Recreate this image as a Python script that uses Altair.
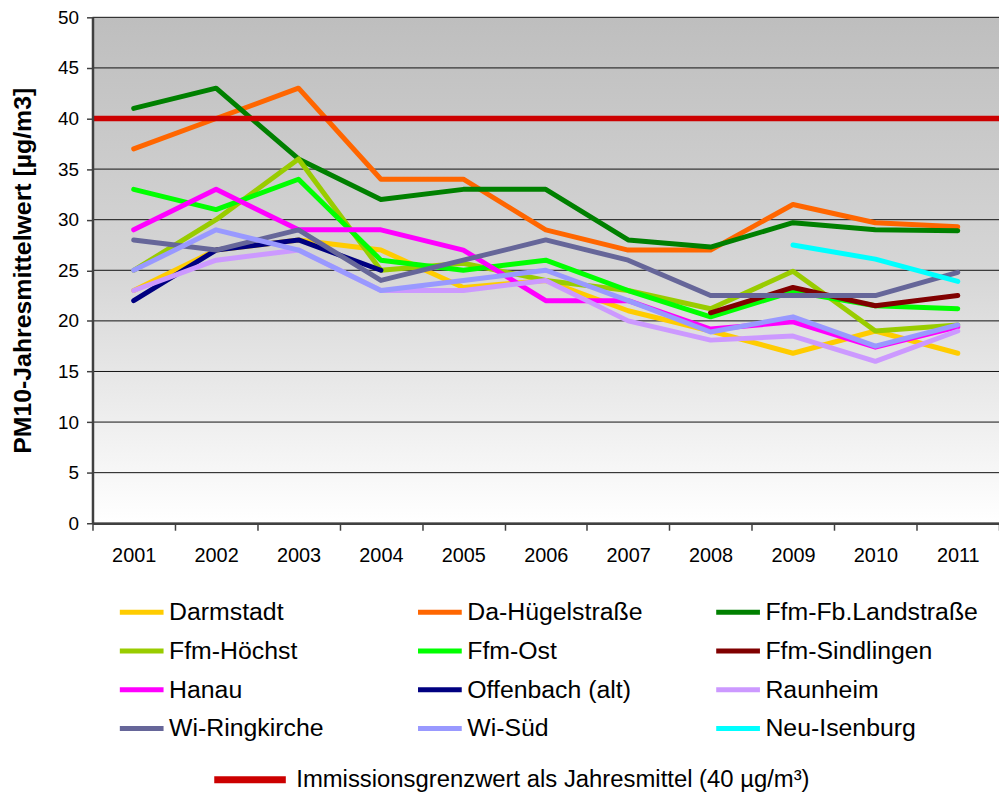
import altair as alt
import pandas as pd

FONT = "Liberation Sans"

years = ["2001", "2002", "2003", "2004", "2005", "2006", "2007", "2008", "2009", "2010", "2011"]

stations = ["Darmstadt", "Da-Hügelstraße", "Ffm-Fb.Landstraße",
            "Ffm-Höchst", "Ffm-Ost", "Ffm-Sindlingen",
            "Hanau", "Offenbach (alt)", "Raunheim",
            "Wi-Ringkirche", "Wi-Süd", "Neu-Isenburg"]
colors = ["#FFCC00", "#FF6600", "#008000",
          "#99CC00", "#00FF00", "#800000",
          "#FF00FF", "#000080", "#CC99FF",
          "#666699", "#9999FF", "#00FFFF"]

darmstadt = [23, 27, 28, 27, 23.3, 24, 21, 19, 16.8, 19, 16.8]
da_huegel = [37, 40, 43, 34, 34, 29, 27, 27, 31.5, 29.7, 29.3]
ffm_fb = [41, 43, 36, 32, 33, 33, 28, 27.3, 29.7, 29, 28.9]
ffm_hoechst = [25, 30, 36, 25, 25.7, 24, 23, 21.2, 24.9, 19, 19.6]
ffm_ost = [33, 31, 34, 26, 25, 26, 23, 20.4, 22.9, 21.5, 21.2]
ffm_sindlingen = [None, None, None, None, None, None, None, 20.8, 23.3, 21.5, 22.5]
hanau = [29, 33, 29, 29, 27, 22, 22, 19.2, 19.9, 17.4, 19.4]
offenbach = [22, 27, 28, 25, None, None, None, None, None, None, None]
raunheim = [23, 26, 27, 23, 23, 24, 20, 18.1, 18.5, 16, 19]
wi_ring = [28, 27, 29, 24, 26, 28, 26, 22.5, 22.5, 22.5, 24.8]
wi_sued = [25, 29, 27, 23, 24, 25, 22, 18.9, 20.4, 17.5, 19.6]
neu_isenburg = [None, None, None, None, None, None, None, None, 27.5, 26.1, 23.9]

series = [darmstadt, da_huegel, ffm_fb, ffm_hoechst, ffm_ost, ffm_sindlingen,
          hanau, offenbach, raunheim, wi_ring, wi_sued, neu_isenburg]

limit_label = "Immissionsgrenzwert als Jahresmittel (40 µg/m³)"
limit_value = [40]
y_ticks = list(range(0, 51, 5))

rows = []
for name, vals in zip(stations, series):
    for yr, v in zip(years, vals):
        if v is not None:
            rows.append({"Jahr": yr, "Station": name, "Wert": v})
df = pd.DataFrame(rows)

# legend fills column by column: reorder so that it reads row by row (3 columns)
ncol = 3
legend_order = [stations[r * ncol + c] for c in range(ncol) for r in range(len(stations) // ncol)]
legend_colors = [colors[stations.index(s)] for s in legend_order]

W, H = 912, 509

xscale = alt.Scale(type="band", domain=years, paddingInner=0, paddingOuter=0)
yscale = alt.Scale(domain=[0, 50], nice=False, zero=True)

xaxis = alt.Axis(title=None, tickBand="extent", labelAngle=0, labelFont=FONT,
                 labelFontSize=20, labelColor="black", labelPadding=15,
                 tickSize=7, tickColor="#404040", tickWidth=1.5,
                 domainColor="#404040", domainWidth=2.5, grid=False, zindex=1)
yaxis = alt.Axis(title="PM10-Jahresmittelwert [µg/m3]", values=y_ticks,
                 titleFont=FONT, titleFontSize=25, titleFontWeight="bold",
                 titleColor="black", titlePadding=22,
                 labelFont=FONT, labelFontSize=19, labelColor="black",
                 labelPadding=8, tickSize=6, tickColor="#404040", tickWidth=1.5,
                 domainColor="#404040", domainWidth=2.5, grid=False, zindex=1)

gradient = alt.Gradient(
    gradient="linear", x1=0, x2=0, y1=0, y2=1,
    stops=[alt.GradientStop(color="#BEBEBE", offset=0),
           alt.GradientStop(color="#D6D6D6", offset=0.5),
           alt.GradientStop(color="#FFFFFF", offset=1)])

bg = alt.Chart(pd.DataFrame({"a": [0]})).mark_rect(color=gradient).encode(
    x=alt.value(0), x2=alt.value("width"), y=alt.value(0), y2=alt.value("height"))

grid = alt.Chart(pd.DataFrame({"tick": y_ticks})).mark_rule(
    color="#111111", strokeWidth=1).encode(
    y=alt.Y("tick:Q", scale=yscale, axis=yaxis))

lines = alt.Chart(df).mark_line(strokeWidth=5, strokeJoin="round", strokeCap="round").encode(
    x=alt.X("Jahr:O", scale=xscale, axis=xaxis),
    y=alt.Y("Wert:Q", scale=yscale, axis=yaxis),
    color=alt.Color("Station:N", scale=alt.Scale(domain=legend_order, range=legend_colors),
                    legend=alt.Legend(title=None, orient="none", legendX=25, legendY=585,
                                      columns=ncol, columnPadding=34, rowPadding=12,
                                      gridAlign="all", symbolType="stroke",
                                      symbolSize=1936, symbolStrokeWidth=5,
                                      clipHeight=27, labelOffset=3,
                                      labelFont=FONT, labelFontSize=25,
                                      labelColor="black", labelLimit=400,
                                      padding=0)),
)

limit = alt.Chart(pd.DataFrame({"label": [limit_label], "wert": limit_value})).mark_rule(
    strokeWidth=5.5).encode(
    y=alt.Y("wert:Q", scale=yscale, axis=yaxis),
    color=alt.Color("label:N", scale=alt.Scale(domain=[limit_label], range=["#CC0000"]),
                    legend=alt.Legend(title=None, orient="none", legendX=119, legendY=755,
                                      symbolType="stroke", symbolSize=5184,
                                      symbolStrokeWidth=7, clipHeight=24,
                                      labelOffset=7, labelFont=FONT,
                                      labelFontSize=24, labelColor="black",
                                      labelLimit=800, padding=0)),
)

chart = alt.layer(bg, grid, lines, limit).resolve_scale(color="independent").properties(
    width=W, height=H,
    padding={"left": 85, "top": 7, "right": 0, "bottom": 270},
    autosize=alt.AutoSizeParams(type="none"),
).configure_view(stroke=None)

chart.save("out.html", embed_options={"renderer": "svg", "actions": False})
